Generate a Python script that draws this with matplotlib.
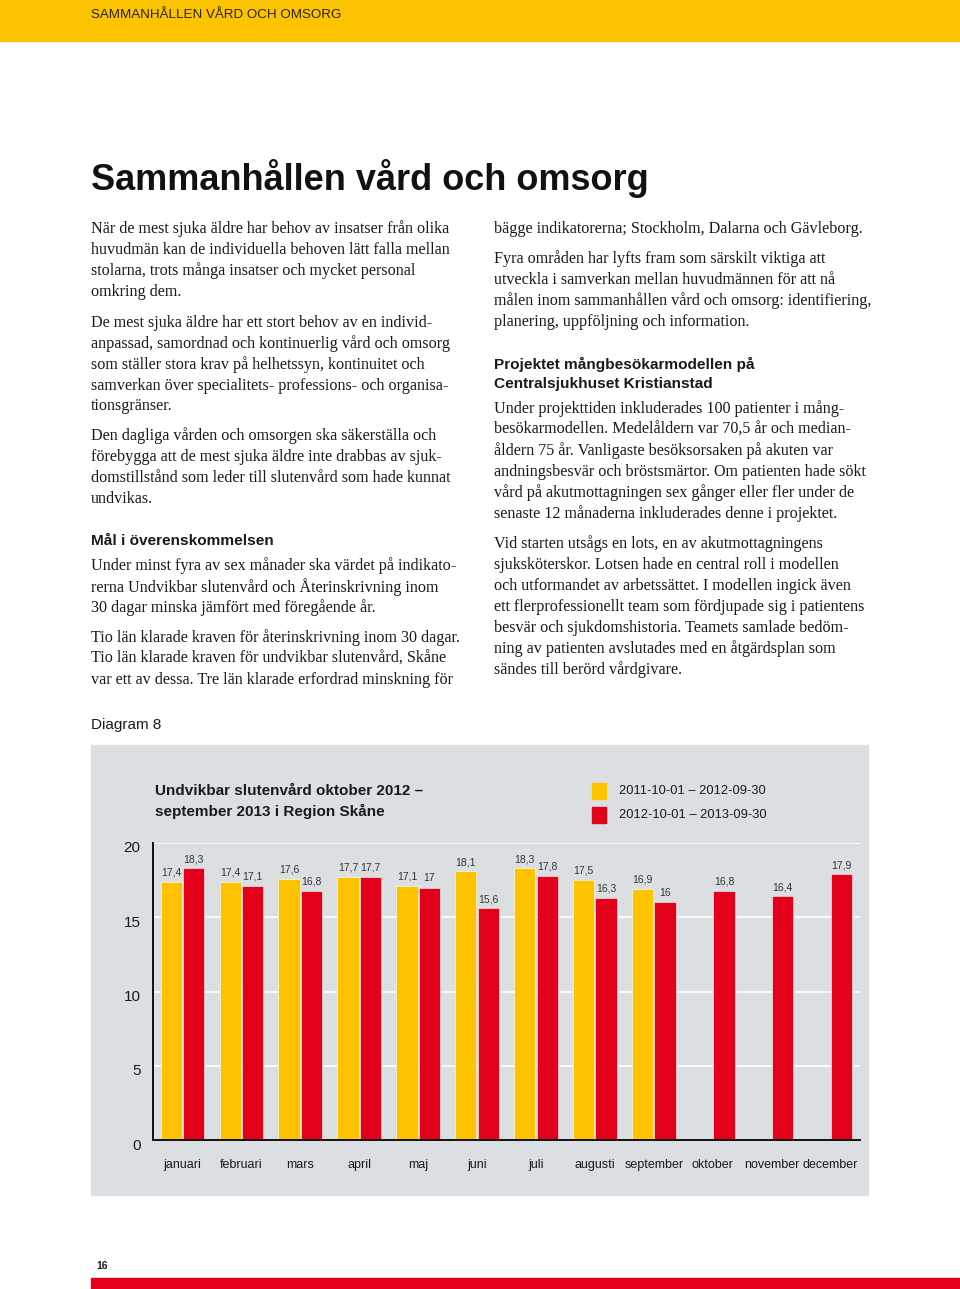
import matplotlib
matplotlib.use('Agg')
import matplotlib.pyplot as plt
import matplotlib.patches as mpatches
import matplotlib.transforms as mtransforms
import numpy as np

# Data
months = ['januari', 'februari', 'mars', 'april', 'maj', 'juni', 'juli',
          'augusti', 'september', 'oktober', 'november', 'december']
prev_year = [17.4, 17.4, 17.6, 17.7, 17.1, 18.1, 18.3, 17.5, 16.9, None, None, None]
this_year = [18.3, 17.1, 16.8, 17.7, 17.0, 15.6, 17.8, 16.3, 16.0, 16.8, 16.4, 17.9]
series_labels = ['2011-10-01 – 2012-09-30', '2012-10-01 – 2013-09-30']
y_ticks = [0, 5, 10, 15, 20]

YELLOW = '#fdc300'
RED = '#e2001a'
PANEL = '#dcdfe2'
INK = '#1a1a1a'

W, H = 960, 1289
fig = plt.figure(figsize=(W / 100, H / 100), dpi=100)


def fx(x):
    return x / W


def fy(y):
    return 1 - y / H


def txt(x, y, s, **kw):
    kw.setdefault('va', 'center')
    kw.setdefault('color', INK)
    fig.text(fx(x), fy(y), s, **kw)


# header band + bottom bar
fig.patches.append(mpatches.Rectangle((0, fy(41)), 1, 41 / H, transform=fig.transFigure,
                                      color='#fcc400', zorder=-1))
fig.patches.append(mpatches.Rectangle((fx(91), 0), 1, 11 / H, transform=fig.transFigure,
                                      color=RED, zorder=-1))
txt(91, 15, 'SAMMANHÅLLEN VÅRD OCH OMSORG', family='Liberation Sans', fontsize=9.6, color='#2a2200')

txt(91, 178, 'Sammanhållen vård och omsorg', family='Liberation Sans', fontsize=26,
    fontweight='bold', color='#111111')

serif = dict(family='Liberation Serif', fontsize=11.6)
head = dict(family='Liberation Sans', fontsize=11.1, fontweight='bold')

left_col = [
    (229, 'När de mest sjuka äldre har behov av insatser från olika', serif),
    (250, 'huvudmän kan de individuella behoven lätt falla mellan', serif),
    (271, 'stolarna, trots många insatser och mycket personal', serif),
    (292, 'omkring dem.', serif),
    (323, 'De mest sjuka äldre har ett stort behov av en individ-', serif),
    (344, 'anpassad, samordnad och kontinuerlig vård och omsorg', serif),
    (365, 'som ställer stora krav på helhetssyn, kontinuitet och', serif),
    (386, 'samverkan över specialitets- professions- och organisa-', serif),
    (406, 'tionsgränser.', serif),
    (436, 'Den dagliga vården och omsorgen ska säkerställa och', serif),
    (457, 'förebygga att de mest sjuka äldre inte drabbas av sjuk-', serif),
    (478, 'domstillstånd som leder till slutenvård som hade kunnat', serif),
    (499, 'undvikas.', serif),
    (541, 'Mål i överenskommelsen', head),
    (566, 'Under minst fyra av sex månader ska värdet på indikato-', serif),
    (587, 'rerna Undvikbar slutenvård och Återinskrivning inom', serif),
    (608, '30 dagar minska jämfört med föregående år.', serif),
    (638, 'Tio län klarade kraven för återinskrivning inom 30 dagar.', serif),
    (659, 'Tio län klarade kraven för undvikbar slutenvård, Skåne', serif),
    (680, 'var ett av dessa. Tre län klarade erfordrad minskning för', serif),
]
right_col = [
    (229, 'bägge indikatorerna; Stockholm, Dalarna och Gävleborg.', serif),
    (259, 'Fyra områden har lyfts fram som särskilt viktiga att', serif),
    (280, 'utveckla i samverkan mellan huvudmännen för att nå', serif),
    (301, 'målen inom sammanhållen vård och omsorg: identifiering,', serif),
    (322, 'planering, uppföljning och information.', serif),
    (364, 'Projektet mångbesökarmodellen på', head),
    (384, 'Centralsjukhuset Kristianstad', head),
    (409, 'Under projekttiden inkluderades 100 patienter i mång-', serif),
    (430, 'besökarmodellen. Medelåldern var 70,5 år och median-', serif),
    (451, 'åldern 75 år. Vanligaste besöksorsaken på akuten var', serif),
    (472, 'andningsbesvär och bröstsmärtor. Om patienten hade sökt', serif),
    (493, 'vård på akutmottagningen sex gånger eller fler under de', serif),
    (514, 'senaste 12 månaderna inkluderades denne i projektet.', serif),
    (544, 'Vid starten utsågs en lots, en av akutmottagningens', serif),
    (565, 'sjuksköterskor. Lotsen hade en central roll i modellen', serif),
    (586, 'och utformandet av arbetssättet. I modellen ingick även', serif),
    (607, 'ett flerprofessionellt team som fördjupade sig i patientens', serif),
    (628, 'besvär och sjukdomshistoria. Teamets samlade bedöm-', serif),
    (649, 'ning av patienten avslutades med en åtgärdsplan som', serif),
    (670, 'sändes till berörd vårdgivare.', serif),
]
for y, s, st in left_col:
    txt(91, y, s, **st)
for y, s, st in right_col:
    txt(494, y, s, **st)

txt(91, 725, 'Diagram 8', family='Liberation Sans', fontsize=11)
txt(96, 1266, '16', family='Liberation Sans', fontsize=7.5, fontweight='bold')

# chart panel
fig.patches.append(mpatches.Rectangle((fx(91), fy(1195)), (868 - 91) / W, (1195 - 745) / H,
                                      transform=fig.transFigure, color=PANEL, zorder=-1))
txt(155, 791, 'Undvikbar slutenvård oktober 2012 –', family='Liberation Sans',
    fontsize=11, fontweight='bold')
txt(155, 811, 'september 2013 i Region Skåne', family='Liberation Sans',
    fontsize=11, fontweight='bold')

for i, (lab, col) in enumerate(zip(series_labels, [YELLOW, RED])):
    yc = 791 + 24 * i
    fig.patches.append(mpatches.Rectangle((fx(592), fy(yc + 8)), 14 / W, 16 / H,
                                          transform=fig.transFigure, color=col, zorder=1))
    txt(619, yc, lab, family='Liberation Sans', fontsize=9.3)

ax = fig.add_axes([fx(153), fy(1140), (860 - 153) / W, (1140 - 843) / H])
ax.set_zorder(2)
ax.set_facecolor('none')

x = np.arange(len(months))
bw = 0.36
prev_vals = np.array([np.nan if v is None else v for v in prev_year], dtype=float)
this_vals = np.array(this_year, dtype=float)
ax.bar(x - 0.19, prev_vals, bw, color=YELLOW, edgecolor='white', linewidth=0.4, zorder=2)
ax.bar(x + 0.19, this_vals, bw, color=RED, edgecolor='white', linewidth=0.4, zorder=2)


def fmt(v):
    s = f'{v:.1f}'.replace('.', ',')
    return s[:-2] if s.endswith(',0') else s


for xs, vals in ((x - 0.19, prev_vals), (x + 0.19, this_vals)):
    for xi, v in zip(xs, vals):
        if np.isnan(v):
            continue
        ax.annotate(fmt(v), (xi, v), xytext=(0, 3), textcoords='offset points',
                    ha='center', va='bottom', fontsize=7.5, color='#333333',
                    family='Liberation Sans')

ax.set_xlim(-0.5, len(months) - 0.5)
ax.set_ylim(0, 20)
ax.set_yticks(y_ticks)
ax.set_xticks(x)
ax.set_xticklabels(months, family='Liberation Sans', fontsize=9, color=INK)
ax.set_yticklabels([str(t) for t in y_ticks], family='Liberation Sans', fontsize=11, color=INK)
ax.tick_params(length=0, axis='y', pad=9)
ax.tick_params(length=0, axis='x', pad=14)
shift = mtransforms.ScaledTranslation(0, -4 / 100, fig.dpi_scale_trans)
for lab in ax.get_yticklabels():
    lab.set_transform(lab.get_transform() + shift)

ax.grid(axis='y', color='white', linewidth=1.2, zorder=1)
ax.set_axisbelow(True)
for side in ('top', 'right'):
    ax.spines[side].set_visible(False)
ax.spines['left'].set_color('#111111')
ax.spines['bottom'].set_color('#111111')
ax.spines['left'].set_linewidth(1.4)
ax.spines['bottom'].set_linewidth(1.4)

fig.savefig('out.png', dpi=100)
